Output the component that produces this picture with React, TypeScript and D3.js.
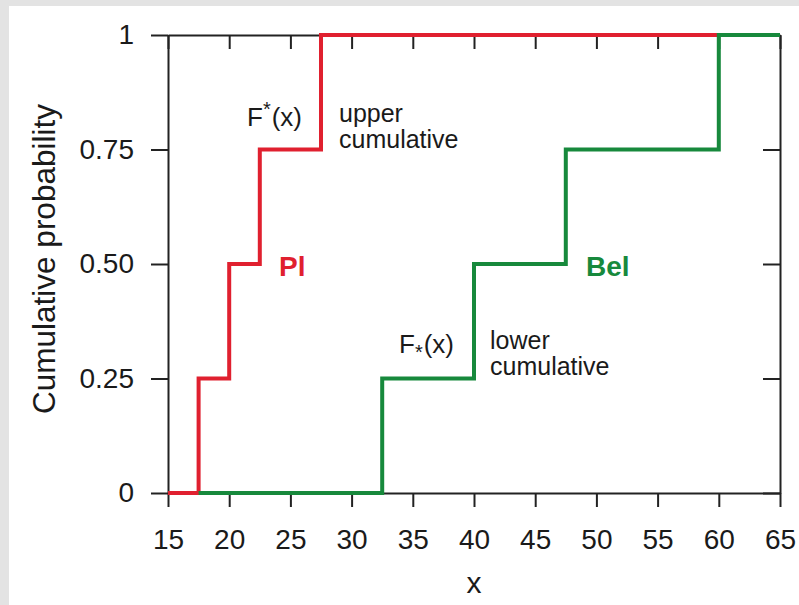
import React, { useEffect, useRef } from "react";
import * as d3 from "d3";

// Step points of the two bounding cumulative distributions
const plX = [15, 17.5, 20, 22.5, 27.5, 60];
const plY = [0, 0.25, 0.5, 0.75, 1, 1];
const belX = [17.5, 32.5, 40, 47.5, 60, 65];
const belY = [0, 0.25, 0.5, 0.75, 1, 1];

const xTicks = [15, 20, 25, 30, 35, 40, 45, 50, 55, 60, 65];
const yTicks = [0, 0.25, 0.5, 0.75, 1];
const yTickLabels = ["0", "0.25", "0.50", "0.75", "1"];

const W = 799;
const H = 605;
const FONT = "'Liberation Sans', Arial, Helvetica, sans-serif";
const RED = "#e0202f";
const GREEN = "#17893c";
const AXIS = "#222";

export default function App() {
  const gRef = useRef<SVGGElement | null>(null);

  const x = d3.scaleLinear().domain([15, 65]).range([168, 780]);
  const y = d3.scaleLinear().domain([0, 1]).range([493, 35]);

  const step = d3
    .line<[number, number]>()
    .x((d) => x(d[0]))
    .y((d) => y(d[1]))
    .curve(d3.curveStepAfter);

  const plPts = plX.map((v, i) => [v, plY[i]] as [number, number]);
  const belPts = belX.map((v, i) => [v, belY[i]] as [number, number]);

  useEffect(() => {
    const g = d3.select(gRef.current);
    g.selectAll("*").remove();

    const bottom = g
      .append("g")
      .attr("transform", `translate(0,${y(0)})`)
      .call(
        d3.axisBottom(x).tickValues(xTicks).tickSize(14).tickSizeOuter(0).tickPadding(22).tickFormat(d3.format("d"))
      );
    const left = g
      .append("g")
      .attr("transform", `translate(${x(15)},0)`)
      .call(
        d3
          .axisLeft(y)
          .tickValues(yTicks)
          .tickSize(17)
          .tickSizeOuter(0)
          .tickPadding(17)
          .tickFormat((_, i) => yTickLabels[i])
      );
    const top = g
      .append("g")
      .attr("transform", `translate(0,${y(1)})`)
      .call(d3.axisTop(x).tickValues(xTicks).tickSize(-14).tickSizeOuter(0).tickFormat(() => ""));
    const right = g
      .append("g")
      .attr("transform", `translate(${x(65)},0)`)
      .call(d3.axisRight(y).tickValues(yTicks).tickSize(-17).tickSizeOuter(0).tickFormat(() => ""));

    [bottom, left, top, right].forEach((a) => {
      a.selectAll("path, line").attr("stroke", AXIS).attr("stroke-width", 2);
      a.selectAll("text")
        .attr("fill", "#1a1a1a")
        .style("font-family", FONT)
        .style("font-size", "28px");
    });
  }, []);

  return (
    <svg
      width={W}
      height={H}
      style={{ display: "block", position: "absolute", left: 0, top: 0 }}
    >
      <rect x={0} y={0} width={W} height={H} fill="#e3e3e3" />
      <rect x={9} y={6} width={W - 9} height={H - 6} fill="#ffffff" />
      <g ref={gRef} />
      <path d={step(plPts) ?? ""} fill="none" stroke={RED} strokeWidth={4} strokeLinejoin="miter" />
      <path d={step(belPts) ?? ""} fill="none" stroke={GREEN} strokeWidth={4} strokeLinejoin="miter" />

      <g style={{ fontFamily: FONT }} fill="#1a1a1a">
        <text x={247} y={126} fontSize={26}>
          F<tspan dy={-10} fontSize={20}>*</tspan>
          <tspan dy={10} dx={1}>(x)</tspan>
        </text>
        <text x={339} y={122} fontSize={25}>upper</text>
        <text x={339} y={148} fontSize={25}>cumulative</text>

        <text x={399} y={353} fontSize={26}>
          F<tspan dy={6} fontSize={20}>*</tspan>
          <tspan dy={-6} dx={1}>(x)</tspan>
        </text>
        <text x={490} y={349} fontSize={25}>lower</text>
        <text x={490} y={375} fontSize={25}>cumulative</text>

        <text x={279} y={276} fontSize={28} fontWeight="bold" fill={RED}>Pl</text>
        <text x={586} y={276} fontSize={28} fontWeight="bold" fill={GREEN}>Bel</text>

        <text x={(x(15) + x(65)) / 2} y={593} fontSize={30} textAnchor="middle">x</text>
        <text
          transform={`translate(55,259) rotate(-90)`}
          fontSize={31.5}
          textAnchor="middle"
        >
          Cumulative probability
        </text>
      </g>
    </svg>
  );
}
